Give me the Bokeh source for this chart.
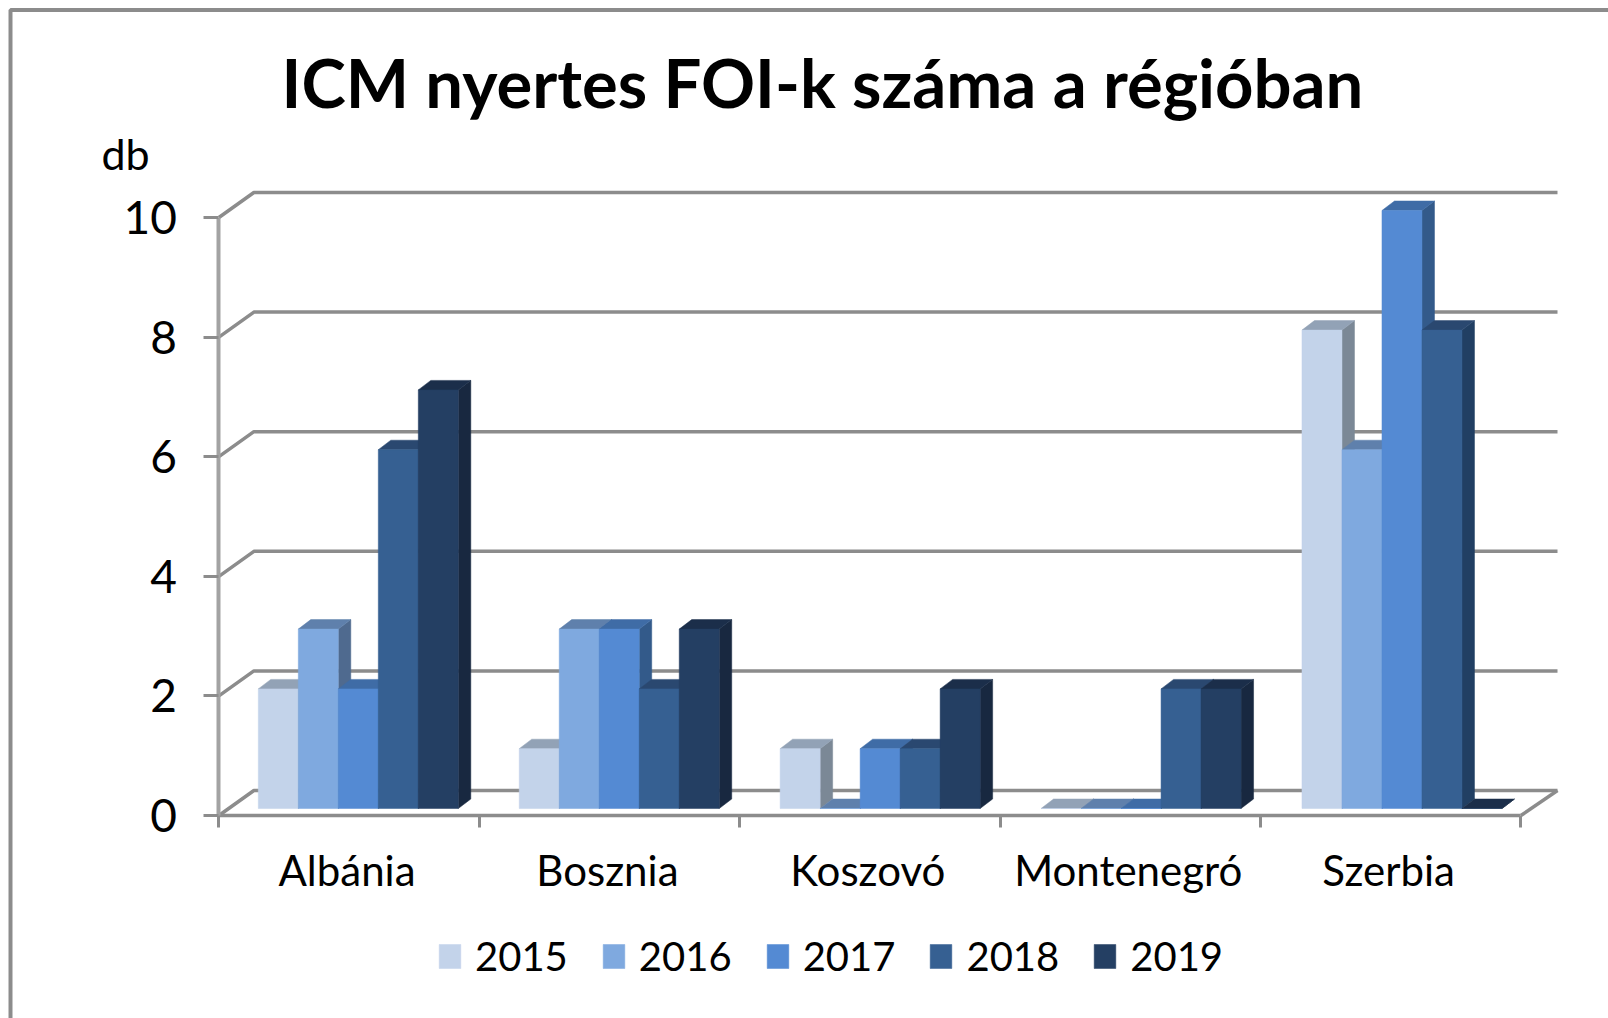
from bokeh.plotting import figure
from bokeh.models import (Label, Legend, LegendItem, FixedTicker, Range1d, ColumnDataSource)
from bokeh.embed import file_html
from bokeh.resources import INLINE

# ---- data
categories = ["Albánia", "Bosznia", "Koszovó", "Montenegró", "Szerbia"]
years = ["2015", "2016", "2017", "2018", "2019"]
v2015 = [2, 1, 1, 0, 8]
v2016 = [3, 3, 0, 0, 6]
v2017 = [2, 3, 1, 0, 10]
v2018 = [6, 2, 1, 2, 8]
v2019 = [7, 3, 2, 2, 0]
series = [v2015, v2016, v2017, v2018, v2019]
y_ticks = [0, 2, 4, 6, 8, 10]
title_text = "ICM nyertes FOI-k száma a régióban"
unit_text = "db"

front = ["#C3D3EA", "#7FA9DF", "#548AD3", "#366092", "#243F63"]
top = ["#92A2B6", "#5F80AC", "#3F6CA6", "#2A4870", "#1B2E4A"]
side = ["#7B8896", "#4F6A8F", "#335A8A", "#213F63", "#182840"]
GRID = "#8C8C8C"
AXIS = "#A3A3A3"
FONT = "Lato"

# ---- layout (page pixels); the frame fills the canvas so nothing is clipped
W, H = 1608, 1018
AX0, AY0 = 218.4, 815.0       # where category 0 / value 0 lie on the page
PX_CAT = 260.4                # pixels per category
PX_VAL = 59.8                 # pixels per unit

def xd(px):
    return (px - AX0) / PX_CAT

def yd(py):
    return (AY0 - py) / PX_VAL

p = figure(width=W, height=H, output_backend="svg", toolbar_location=None,
           x_range=Range1d(xd(0), xd(W)), y_range=Range1d(yd(H), yd(0)),
           min_border=0, outline_line_color=None,
           background_fill_color="white", border_fill_color="white")
p.grid.visible = False

# ---- axes
ax = p.xaxis[0]
ax.fixed_location = 0
ax.ticker = FixedTicker(ticks=[i + 0.492 for i in range(len(categories))],
                        minor_ticks=list(range(len(categories) + 1)))
ax.major_label_overrides = {i + 0.492: c for i, c in enumerate(categories)}
ax.bounds = (0, len(categories))
ax.axis_line_color = GRID
ax.axis_line_width = 3.5
ax.major_tick_line_color = None
ax.minor_tick_line_color = GRID
ax.minor_tick_line_width = 3
ax.minor_tick_in = 0
ax.minor_tick_out = 12
ax.major_label_standoff = 17
ax.major_label_text_font = FONT
ax.major_label_text_font_size = "42px"
ax.major_label_text_color = "#000000"

ay = p.yaxis[0]
ay.fixed_location = 0
ay.ticker = FixedTicker(ticks=y_ticks)
ay.bounds = (0, 10)
ay.axis_line_color = AXIS
ay.axis_line_width = 4
ay.major_tick_line_color = GRID
ay.major_tick_line_width = 3
ay.major_tick_in = 0
ay.major_tick_out = 15
ay.minor_tick_line_color = None
ay.major_label_standoff = 27
ay.major_label_text_font = FONT
ay.major_label_text_font_size = "46px"
ay.major_label_text_color = "#000000"

# ---- walls and floor
WALL_DX = xd(AX0 + 35)
WALL_DY = 25 / PX_VAL
END = len(categories)
p.multi_line(xs=[[0, WALL_DX, xd(1557)] for t in y_ticks],
             ys=[[t, t + WALL_DY, t + WALL_DY] for t in y_ticks],
             line_color=GRID, line_width=3.5)
p.multi_line(xs=[[END, xd(1557)]], ys=[[0, WALL_DY]], line_color=GRID, line_width=3.5)

# ---- 3D bars
GROUP_PITCH = 1.002
BAR_W = 40.0 / PX_CAT
BAR_START = 39.4 / PX_CAT
BASE = 7 / PX_VAL
DEPTH_X = 12.5 / PX_CAT
DEPTH_Y = 9.5 / PX_VAL

items = []
for s, values in enumerate(series):
    left = [i * GROUP_PITCH + BAR_START + s * BAR_W for i in range(len(values))]
    right = [l + BAR_W for l in left]
    tops = [v + BASE for v in values]
    side_xs, side_ys, top_xs, top_ys = [], [], [], []
    for l, r, t in zip(left, right, tops):
        side_xs.append([r, r + DEPTH_X, r + DEPTH_X, r])
        side_ys.append([BASE, BASE + DEPTH_Y, t + DEPTH_Y, t])
        top_xs.append([l, l + DEPTH_X, r + DEPTH_X, r])
        top_ys.append([t, t + DEPTH_Y, t + DEPTH_Y, t])
    p.patches(side_xs, side_ys, fill_color=side[s], line_color=side[s], line_width=0.5)
    p.patches(top_xs, top_ys, fill_color=top[s], line_color=top[s], line_width=0.5)
    src = ColumnDataSource(dict(left=left, right=right, top=tops, bottom=[BASE] * len(tops)))
    r_front = p.quad(left="left", right="right", top="top", bottom="bottom", source=src,
                     fill_color=front[s], line_color=front[s], line_width=0.5)
    items.append(LegendItem(label=years[s], renderers=[r_front]))

# ---- legend
legend = Legend(items=items, orientation="horizontal", location=(436, H - 985 + 5),
                glyph_width=27, glyph_height=30, label_standoff=12, spacing=32,
                padding=10, margin=0, border_line_color=None, background_fill_alpha=0,
                label_text_font=FONT, label_text_font_size="40px", label_text_color="#000000",
                label_height=40)
p.add_layout(legend, "center")

# ---- title and unit
p.add_layout(Label(x=xd(822), y=yd(81), text=title_text, text_align="center", text_baseline="alphabetic",
                   text_font=FONT, text_font_style="bold", text_font_size="67px", text_color="#000000"))
p.add_layout(Label(x=xd(101), y=yd(153), text=unit_text, text_align="left", text_baseline="alphabetic",
                   text_font=FONT, text_font_size="43px", text_color="#000000"))

# ---- outer frame (left and top edges of the pasted chart)
p.line([xd(10), xd(10), xd(W)], [yd(H), yd(9.5), yd(9.5)], line_color="#8C8C8C", line_width=4)

open("out.html", "w").write(file_html(p, INLINE))
